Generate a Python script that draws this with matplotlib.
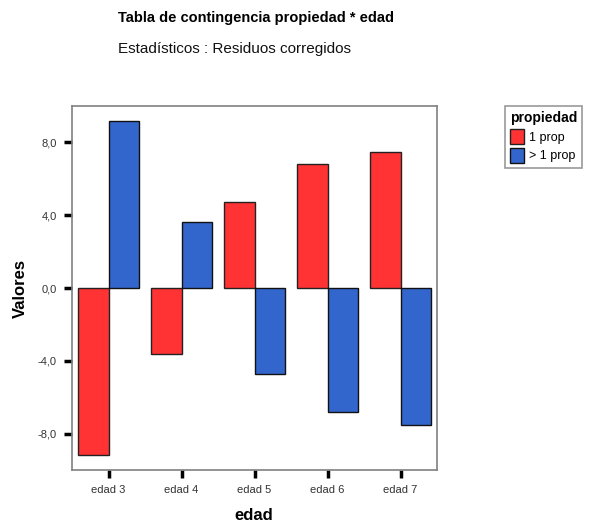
import matplotlib.pyplot as plt
import numpy as np

plt.rcParams['font.family'] = ['Liberation Sans', 'DejaVu Sans']

categories = ['edad 3', 'edad 4', 'edad 5', 'edad 6', 'edad 7']
one_prop = [-9.2, -3.6, 4.7, 6.8, 7.5]
more_prop = [9.2, 3.6, -4.7, -6.8, -7.5]
yticks = [-8.0, -4.0, 0.0, 4.0, 8.0]
ytick_labels = ['-8,0', '-4,0', '0,0', '4,0', '8,0']

fig = plt.figure(figsize=(5.9, 5.27), dpi=100)
ax = fig.add_axes([72 / 590, 1 - 470 / 527, (437 - 72) / 590, (470 - 106) / 527])

x = np.arange(len(categories))
w = 0.42
b1 = ax.bar(x - w / 2, one_prop, w, color='#FF3333', edgecolor='#222222', lw=1, label='1 prop')
b2 = ax.bar(x + w / 2, more_prop, w, color='#3366CC', edgecolor='#111111', lw=1, label='> 1 prop')

ax.set_xlim(-0.5, 4.5)
ax.set_ylim(-10, 10)
ax.set_xticks(x)
ax.set_xticklabels(categories, fontsize=8)
ax.set_yticks(yticks)
ax.set_yticklabels(ytick_labels, fontsize=8)
ax.tick_params(axis='both', length=6, width=2.5, color='black', pad=5, labelcolor='#333333')
for s in ax.spines.values():
    s.set_color('#808080')
    s.set_linewidth(1.2)

# axis titles placed in figure pixels, as in the reference
fig.text(254 / 590, 1 - 516 / 527, 'edad', fontsize=12, fontweight='bold',
         ha='center', va='center')
fig.text(20 / 590, 1 - 288 / 527, 'Valores', fontsize=12, fontweight='bold',
         ha='center', va='center', rotation=90)

fig.text(118 / 590, 1 - 18 / 527, 'Tabla de contingencia propiedad * edad',
         fontsize=10.5, fontweight='bold', ha='left', va='center')
fig.text(118 / 590, 1 - 49 / 527, 'Estadísticos : Residuos corregidos',
         fontsize=11, ha='left', va='center', color='#111111')

leg = fig.legend(handles=[b1, b2], loc='upper left', bbox_to_anchor=(505 / 590, 1 - 106 / 527),
                 title='propiedad', fontsize=9, title_fontproperties={'weight': 'bold', 'size': 10},
                 alignment='left', frameon=True, fancybox=False, edgecolor='#808080',
                 handlelength=1.1, handleheight=1.5, handletextpad=0.4, labelspacing=0.3,
                 borderpad=0.4, borderaxespad=0)
leg.get_frame().set_linewidth(1.2)

fig.savefig('out.png', dpi=100)
plt.close()
